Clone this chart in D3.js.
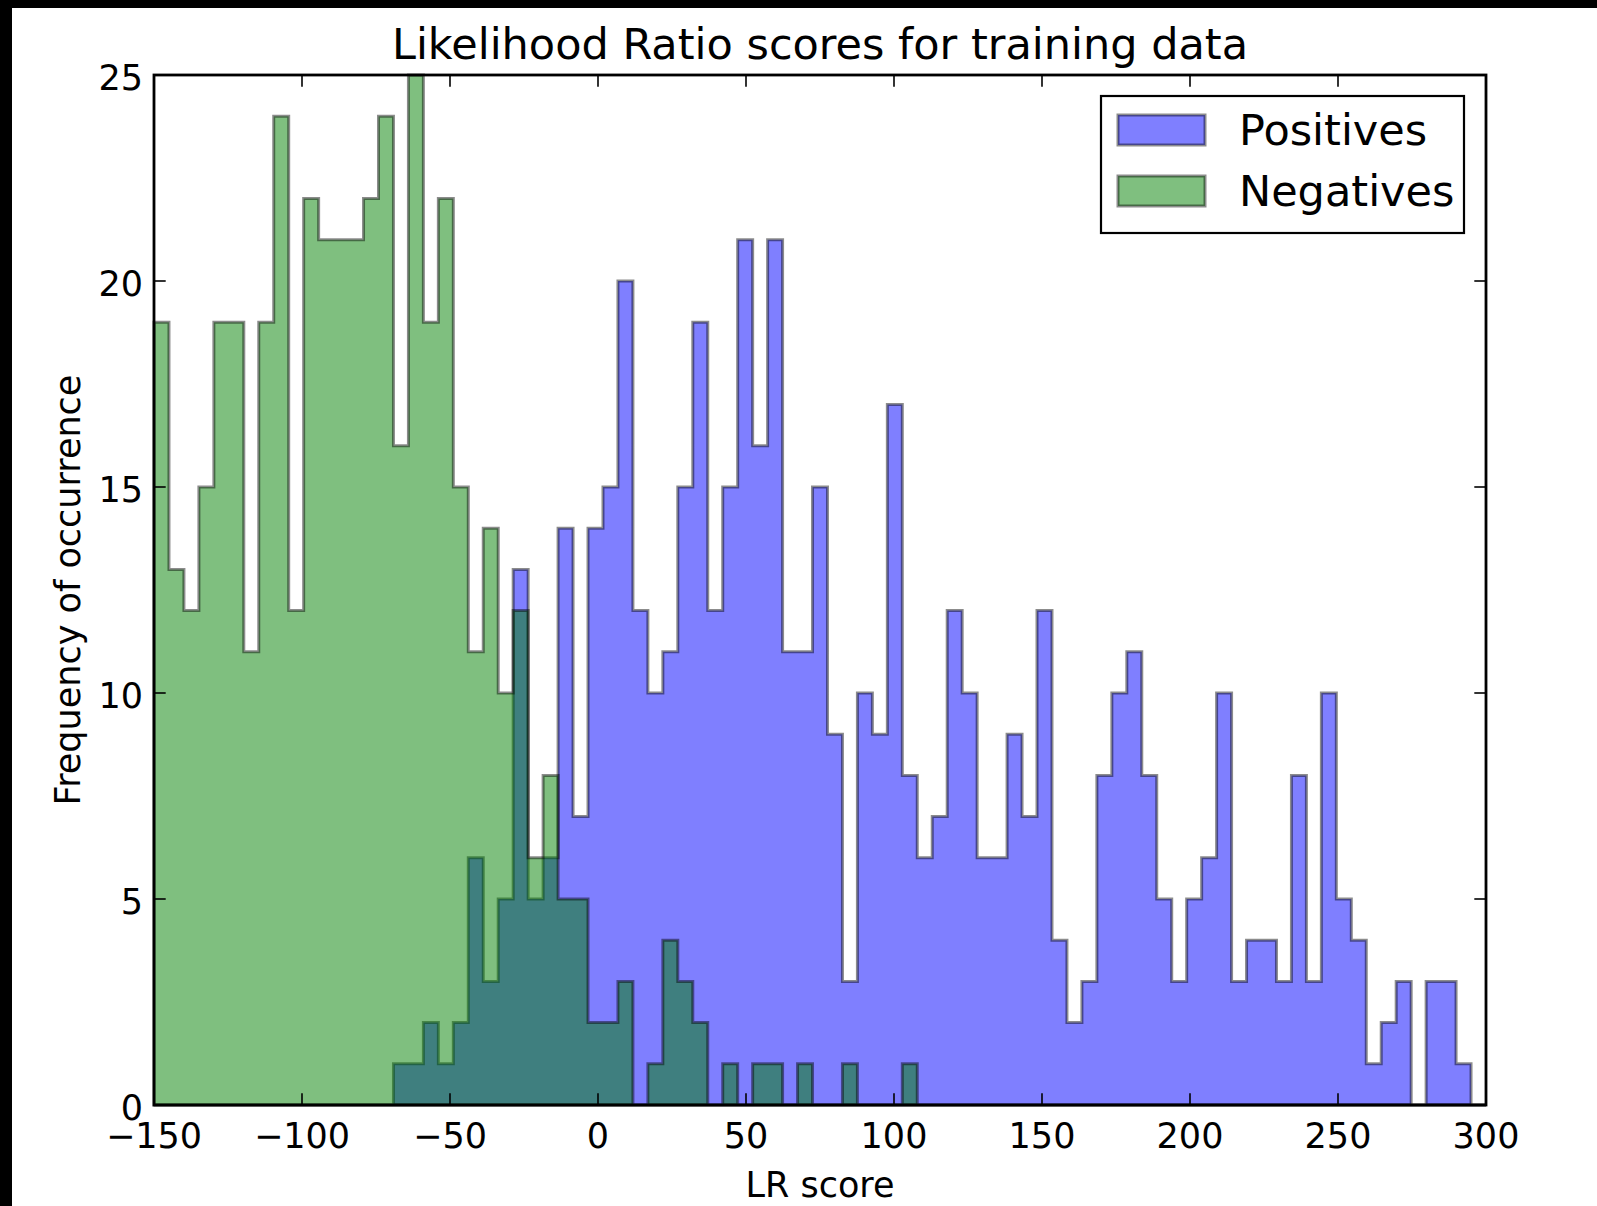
<!DOCTYPE html>
<html>
<head>
<meta charset="utf-8">
<script src="https://cdn.jsdelivr.net/npm/d3@7"></script>
<style>
  html, body { margin: 0; padding: 0; background: #fff; }
  svg { display: block; }
  text { font-family: "DejaVu Sans", sans-serif; fill: #000; }
</style>
</head>
<body>
<svg id="chart" width="1597" height="1206"></svg>
<script>
// ---- data ----
const binStart = -150;
const binEnd = 300;
const binCount = 89;
const seriesNames = ["Positives", "Negatives"];
const positives = [
  0,0,0,0,0,0,0,0,0,0,0,0,0,0,0,0,
  1,1,2,1,2,6,3,5,13,5,6,14,7,14,15,20,12,10,11,15,19,12,15,21,16,21,
  11,11,15,9,3,10,9,17,8,6,7,12,10,6,6,9,7,12,4,2,3,8,10,11,8,5,3,5,6,
  10,3,4,4,3,8,3,10,5,4,1,2,3,0,3,3,1,0
];
const negatives = [
  19,13,12,15,19,19,11,19,24,12,22,21,21,21,22,24,16,25,19,22,15,11,14,10,12,
  6,8,5,5,2,2,3,0,1,4,3,2,0,1,0,1,1,0,1,0,0,1,0,0,0,1,
  0,0,0,0,0,0,0,0,0,0,0,0,0,0,0,0,0,0,0,0,0,0,0,0,0,0,0,0,0,0,0,0,0,0,0,0,0,0
];
const xTicks = [-150, -100, -50, 0, 50, 100, 150, 200, 250, 300];
const yTicks = [0, 5, 10, 15, 20, 25];
const titleText = "Likelihood Ratio scores for training data";
const xLabel = "LR score";
const yLabel = "Frequency of occurrence";

// ---- layout ----
const W = 1597, H = 1206;
const plot = { left: 154, right: 1486, top: 75, bottom: 1105 };
const svg = d3.select("#chart");

svg.append("rect").attr("x", 0).attr("y", 0).attr("width", W).attr("height", H).attr("fill", "#fff");
// black borders of the original screenshot
svg.append("rect").attr("x", 0).attr("y", 0).attr("width", W).attr("height", 8).attr("fill", "#000");
svg.append("rect").attr("x", 0).attr("y", 0).attr("width", 12).attr("height", H).attr("fill", "#000");

const x = d3.scaleLinear().domain([-150, 300]).range([plot.left, plot.right]);
const y = d3.scaleLinear().domain([0, 25]).range([plot.bottom, plot.top]);

const edges = d3.range(binCount + 1).map(i => binStart + (binEnd - binStart) * i / binCount);

function stepPoints(counts) {
  const pts = [[edges[0], 0]];
  counts.forEach((c, i) => { pts.push([edges[i], c]); pts.push([edges[i + 1], c]); });
  pts.push([edges[binCount], 0]);
  return pts;
}
const line = d3.line().x(d => x(d[0])).y(d => y(d[1]));

const colors = { Positives: "#0000ff", Negatives: "#008000" };
const lw = 3;

[["Positives", positives], ["Negatives", negatives]].forEach(([name, counts]) => {
  svg.append("path")
    .attr("d", line(stepPoints(counts)) + "Z")
    .attr("fill", colors[name]).attr("fill-opacity", 0.5)
    .attr("stroke", "#000").attr("stroke-opacity", 0.45)
    .attr("stroke-width", lw).attr("stroke-linejoin", "miter");
});

// ---- axes (classic matplotlib: ticks inward on all four sides) ----
const tickLen = 11.7, tickW = 1.6;
const axes = svg.append("g");
xTicks.forEach(t => {
  axes.append("line").attr("x1", x(t)).attr("x2", x(t)).attr("y1", plot.bottom).attr("y2", plot.bottom - tickLen)
    .attr("stroke", "#000").attr("stroke-width", tickW);
  axes.append("line").attr("x1", x(t)).attr("x2", x(t)).attr("y1", plot.top).attr("y2", plot.top + tickLen)
    .attr("stroke", "#000").attr("stroke-width", tickW);
  axes.append("text").attr("x", x(t)).attr("y", 1148).attr("text-anchor", "middle")
    .attr("font-size", 35).text(t < 0 ? "\u2212" + Math.abs(t) : String(t));
});
yTicks.forEach(t => {
  axes.append("line").attr("x1", plot.left).attr("x2", plot.left + tickLen).attr("y1", y(t)).attr("y2", y(t))
    .attr("stroke", "#000").attr("stroke-width", tickW);
  axes.append("text").attr("x", 143).attr("y", y(t) + 15).attr("text-anchor", "end")
    .attr("font-size", 35).text(String(t));
  axes.append("line").attr("x1", plot.right).attr("x2", plot.right - tickLen).attr("y1", y(t)).attr("y2", y(t))
    .attr("stroke", "#000").attr("stroke-width", tickW);
});
axes.append("rect").attr("x", plot.left).attr("y", plot.top)
  .attr("width", plot.right - plot.left).attr("height", plot.bottom - plot.top)
  .attr("fill", "none").attr("stroke", "#000").attr("stroke-width", 2.8);

// ---- labels ----
svg.append("text").attr("x", (plot.left + plot.right) / 2).attr("y", 59).attr("text-anchor", "middle")
  .attr("font-size", 43).text(titleText);
svg.append("text").attr("x", (plot.left + plot.right) / 2).attr("y", 1197).attr("text-anchor", "middle")
  .attr("font-size", 35).text(xLabel);
svg.append("text").attr("transform", `translate(80,${(plot.top + plot.bottom) / 2}) rotate(-90)`)
  .attr("text-anchor", "middle").attr("font-size", 35).text(yLabel);

// ---- legend ----
const lg = svg.append("g");
lg.append("rect").attr("x", 1101).attr("y", 96).attr("width", 363).attr("height", 137)
  .attr("fill", "#fff").attr("stroke", "#000").attr("stroke-width", 2.2);
seriesNames.forEach((name, i) => {
  const yy = 115 + i * 61;
  lg.append("rect").attr("x", 1118).attr("y", yy).attr("width", 87).attr("height", 30)
    .attr("fill", colors[name]).attr("fill-opacity", 0.5)
    .attr("stroke", "#000").attr("stroke-opacity", 0.45).attr("stroke-width", lw);
  lg.append("text").attr("x", 1239).attr("y", yy + 30).attr("font-size", 43).text(name);
});
</script>
</body>
</html>
